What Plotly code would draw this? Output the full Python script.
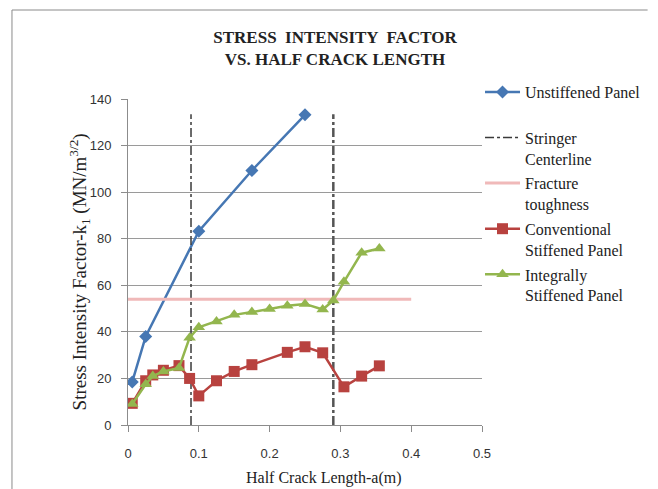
import plotly.graph_objects as go

# ---- data ----
a_unstiff = [0.006, 0.025, 0.1, 0.175, 0.25]
k_unstiff = [18.5, 38.0, 83.2, 109.3, 133.2]

a_conv = [0.006, 0.025, 0.035, 0.05, 0.072, 0.087, 0.1, 0.125, 0.15, 0.175,
          0.225, 0.25, 0.275, 0.305, 0.33, 0.355]
k_conv = [9.3, 19.0, 21.5, 23.5, 25.5, 20.0, 12.5, 19.0, 23.0, 25.9,
          31.2, 33.6, 31.0, 16.4, 21.0, 25.4]

a_integ = [0.006, 0.025, 0.035, 0.05, 0.072, 0.087, 0.1, 0.125, 0.15, 0.175,
           0.2, 0.225, 0.25, 0.275, 0.29, 0.305, 0.33, 0.355]
k_integ = [9.0, 17.5, 21.0, 23.0, 24.5, 37.5, 42.0, 44.5, 47.3, 48.5,
           49.8, 51.2, 52.0, 49.6, 53.5, 61.5, 74.0, 75.8]

stringer_a = [0.089, 0.29]
stringer_k = [0, 133.5]

toughness_k = 54
toughness_a = [0, 0.4]

x_ticks = [0, 0.1, 0.2, 0.3, 0.4, 0.5]
y_ticks = [0, 20, 40, 60, 80, 100, 120, 140]

BLUE = "#4677B3"
RED = "#B8423F"
GREEN = "#93B64E"
PINK = "#F0B9B9"
SERIF = "Liberation Serif"
SANS = "Liberation Sans"

fig = go.Figure()

fig.add_trace(go.Scatter(
    x=a_unstiff, y=k_unstiff, mode="lines+markers",
    name="Unstiffened Panel<br> ", legendgroup="g1",
    line=dict(color=BLUE, width=2.5),
    marker=dict(symbol="diamond", size=10, color=BLUE)))

for i, xa in enumerate(stringer_a):
    fig.add_trace(go.Scatter(
        x=[xa, xa], y=stringer_k, mode="lines",
        name="Stringer<br>Centerline", legendgroup="g2",
        showlegend=(i == 0),
        line=dict(color="#3a3a3a" if i == 0 else "#555555",
                  width=1.5 if i == 0 else 2.5, dash="dashdot")))

fig.add_trace(go.Scatter(
    x=toughness_a, y=[toughness_k] * len(toughness_a), mode="lines",
    name="Fracture<br>toughness", legendgroup="g3",
    line=dict(color=PINK, width=3)))

fig.add_trace(go.Scatter(
    x=a_conv, y=k_conv, mode="lines+markers",
    name="Conventional<br>Stiffened Panel", legendgroup="g4",
    line=dict(color=RED, width=2.5),
    marker=dict(symbol="square", size=11, color=RED)))

fig.add_trace(go.Scatter(
    x=a_integ, y=k_integ, mode="lines+markers",
    name="Integrally<br>Stiffened Panel", legendgroup="g5",
    line=dict(color=GREEN, width=2.5),
    marker=dict(symbol="triangle-up", size=11, color=GREEN)))

# plot-area geometry (pixels) used to place the frame and titles
L, R, T, B = 128, 485, 99, 425
def px(xp):
    return (xp - L) / (R - L)
def py(yp):
    return (B - yp) / (B - T)

fig.add_shape(type="line", xref="paper", yref="paper",
              x0=px(11), x1=px(11), y0=py(10), y1=py(495),
              line=dict(color="#8a8a8a", width=1))
fig.add_shape(type="line", xref="paper", yref="paper",
              x0=px(11), x1=px(652), y0=py(10), y1=py(10),
              line=dict(color="#8a8a8a", width=1))

fig.add_annotation(text="Half Crack Length-a(m)", xref="paper", yref="paper",
                   x=px(325), y=py(478), xanchor="center", yanchor="middle",
                   showarrow=False,
                   font=dict(family=SERIF, size=16, color="#222"))
fig.add_annotation(text="Stress Intensity Factor-k<sub>1</sub> (MN/m<sup>3/2</sup>)",
                   xref="paper", yref="paper", textangle=-90,
                   x=px(79), y=py(272), xanchor="center", yanchor="middle",
                   showarrow=False,
                   font=dict(family=SERIF, size=19, color="#222"))

fig.update_layout(
    width=658, height=489,
    margin=dict(l=L, r=658 - R, t=T, b=489 - B),
    paper_bgcolor="white", plot_bgcolor="white",
    title=dict(text="<b>STRESS  INTENSITY  FACTOR<br>VS. HALF CRACK LENGTH</b>",
               x=335 / 658, xanchor="center", xref="container",
               y=1 - 43 / 489, yanchor="middle", yref="container",
               font=dict(family=SERIF, size=17, color="#222")),
    showlegend=True,
    legend=dict(x=px(483), xanchor="left", y=py(75), yanchor="top",
                font=dict(family=SERIF, size=16, color="#222"),
                valign="top", tracegroupgap=1, bgcolor="rgba(0,0,0,0)",
                itemwidth=35),
    xaxis=dict(range=[0, 0.5], tickvals=x_ticks,
               ticktext=[("%g" % v) for v in x_ticks],
               showgrid=False, zeroline=False,
               showline=True, linecolor="#8c8c8c", linewidth=1,
               ticks="outside", ticklen=6, tickcolor="#8c8c8c",
               ticklabelstandoff=10,
               tickfont=dict(family=SANS, size=13, color="#333")),
    yaxis=dict(range=[0, 140], tickvals=y_ticks,
               showgrid=True, gridcolor="#9a9a9a", gridwidth=1,
               zeroline=False,
               showline=True, linecolor="#8c8c8c", linewidth=1,
               ticks="outside", ticklen=6, tickcolor="#8c8c8c",
               ticklabelstandoff=7,
               tickfont=dict(family=SANS, size=13, color="#333")),
)

fig.write_html("out.html")
